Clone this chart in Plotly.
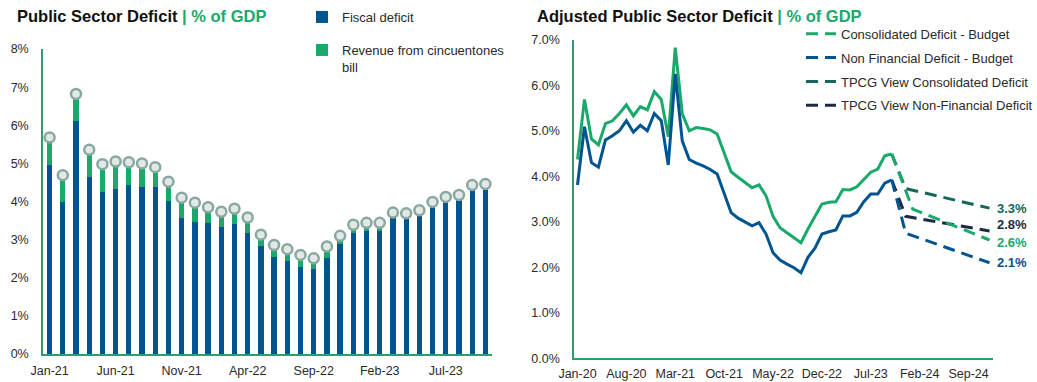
import pandas as pd
import plotly.graph_objects as go

# ---------------- Left chart data ----------------
months_left = [d.strftime("%b-%y") for d in pd.date_range("2021-01-01", "2023-10-01", freq="MS")]
fiscal_deficit = [4.97, 4.00, 6.12, 4.65, 4.26, 4.34, 4.42, 4.39, 4.39, 4.02,
                  3.58, 3.47, 3.44, 3.34, 3.40, 3.17, 2.82, 2.55, 2.45, 2.29,
                  2.22, 2.51, 2.88, 3.17, 3.22, 3.22, 3.71, 3.69, 3.77, 3.99,
                  4.12, 4.17, 4.43, 4.46]
cincuentones_revenue = [0.71, 0.69, 0.70, 0.71, 0.72, 0.71, 0.61, 0.61, 0.51, 0.50,
                        0.52, 0.50, 0.41, 0.39, 0.41, 0.41, 0.31, 0.31, 0.30, 0.31,
                        0.29, 0.31, 0.22, 0.22, 0.22, 0.22, 0.0, 0.0, 0.0, 0.0,
                        0.0, 0.0, 0.0, 0.0]
left_ticks = months_left[::5]
left_yticks = [0, 1, 2, 3, 4, 5, 6, 7, 8]
left_ytext = ["0%", "1%", "2%", "3%", "4%", "5%", "6%", "7%", "8%"]

# ---------------- Right chart data ----------------
months_right = [d.strftime("%b-%y") for d in pd.date_range("2020-01-01", "2024-12-01", freq="MS")]
months_actual = months_right[:46]
consolidated = [4.37, 5.69, 4.82, 4.69, 5.16, 5.22, 5.38, 5.57, 5.33, 5.53,
                5.46, 5.86, 5.69, 4.87, 6.83, 5.38, 5.00, 5.07, 5.05, 5.02,
                4.93, 4.50, 4.10, 3.98, 3.86, 3.75, 3.81, 3.57, 3.12, 2.87,
                2.76, 2.64, 2.54, 2.84, 3.11, 3.39, 3.43, 3.44, 3.71, 3.70,
                3.77, 3.93, 4.09, 4.16, 4.45, 4.49]
non_financial = [3.81, 5.09, 4.30, 4.20, 4.80, 4.89, 5.00, 5.22, 4.97, 5.12,
                 5.00, 5.38, 5.22, 4.25, 6.25, 4.78, 4.37, 4.29, 4.23, 4.15,
                 4.05, 3.63, 3.20, 3.08, 3.00, 2.91, 2.98, 2.73, 2.32, 2.16,
                 2.07, 1.99, 1.88, 2.22, 2.42, 2.73, 2.78, 2.82, 3.13, 3.13,
                 3.21, 3.44, 3.61, 3.61, 3.85, 3.92]
cons_budget_x = ["Oct-23", "Jan-24", "Dec-24"]
cons_budget = [4.49, 3.28, 2.6]
nf_budget_x = ["Oct-23", "Dec-23", "Dec-24"]
nf_budget = [3.92, 2.75, 2.1]
tpcg_cons_x = ["Oct-23", "Dec-23", "Dec-24"]
tpcg_cons = [4.49, 3.73, 3.3]
tpcg_nf_x = ["Oct-23", "Dec-23", "Dec-24"]
tpcg_nf = [3.92, 3.12, 2.8]
right_ticks = months_right[::7]
right_yticks = [0, 1, 2, 3, 4, 5, 6, 7]
right_ytext = ["0.0%", "1.0%", "2.0%", "3.0%", "4.0%", "5.0%", "6.0%", "7.0%"]

# ---------------- Styles ----------------
BLUE = "#00548f"
GREEN = "#19a96b"
TEAL = "#17665a"
NAVY = "#1c2b45"
AXIS = "#2aa06a"
TXT = "#2a2a2a"
FONT = "Liberation Sans, Arial, Helvetica, sans-serif"

fig = go.Figure()

fig.add_trace(go.Bar(x=months_left, y=fiscal_deficit, name="Fiscal deficit",
                     marker=dict(color=BLUE, line=dict(width=0)), width=0.4,
                     xaxis="x", yaxis="y", legend="legend", legendgroup="a"))
fig.add_trace(go.Bar(x=months_left, y=cincuentones_revenue, name="Revenue from cincuentones<br>bill",
                     marker=dict(color=GREEN, line=dict(width=0)), width=0.4,
                     xaxis="x", yaxis="y", legend="legend3", legendgroup="b"))
totals = [f + r for f, r in zip(fiscal_deficit, cincuentones_revenue)]
fig.add_trace(go.Scatter(x=months_left, y=totals, mode="markers", showlegend=False,
                         marker=dict(size=10, color="#e1e9e7", line=dict(color="#8aa7a2", width=2.5)),
                         xaxis="x", yaxis="y", hoverinfo="skip"))

# Right chart lines
fig.add_trace(go.Scatter(x=months_actual, y=consolidated, mode="lines", showlegend=False,
                         line=dict(color=GREEN, width=3), xaxis="x2", yaxis="y2"))
fig.add_trace(go.Scatter(x=months_actual, y=non_financial, mode="lines", showlegend=False,
                         line=dict(color=BLUE, width=3), xaxis="x2", yaxis="y2"))
dash = "12px,7px"
fig.add_trace(go.Scatter(x=tpcg_cons_x, y=tpcg_cons, mode="lines", name="TPCG View Consolidated Deficit",
                         line=dict(color=TEAL, width=3, dash=dash), xaxis="x2", yaxis="y2",
                         legend="legend2", legendgroup="r3", legendrank=3))
fig.add_trace(go.Scatter(x=tpcg_nf_x, y=tpcg_nf, mode="lines", name="TPCG View Non-Financial Deficit",
                         line=dict(color=NAVY, width=3, dash=dash), xaxis="x2", yaxis="y2",
                         legend="legend2", legendgroup="r4", legendrank=4))
fig.add_trace(go.Scatter(x=cons_budget_x, y=cons_budget, mode="lines", name="Consolidated Deficit - Budget",
                         line=dict(color=GREEN, width=3, dash=dash), xaxis="x2", yaxis="y2",
                         legend="legend2", legendgroup="r1", legendrank=1))
fig.add_trace(go.Scatter(x=nf_budget_x, y=nf_budget, mode="lines", name="Non Financial Deficit - Budget",
                         line=dict(color=BLUE, width=3, dash=dash), xaxis="x2", yaxis="y2",
                         legend="legend2", legendgroup="r2", legendrank=2))

# End labels
end_labels = [(tpcg_cons, TEAL, 0), (tpcg_nf, NAVY, 6), (cons_budget, GREEN, -2), (nf_budget, BLUE, 0)]
annotations = []
for vals, col, ys in end_labels:
    annotations.append(dict(x=months_right[-1], y=vals[-1], xref="x2", yref="y2",
                            text=f"<b>{vals[-1]:.1f}%</b>", showarrow=False, xanchor="left",
                            xshift=5, yshift=ys, font=dict(size=13, color=col, family=FONT)))

annotations.append(dict(x=15 / 1037, y=1 - 16 / 382, xref="paper", yref="paper", xanchor="left",
                        yanchor="middle", showarrow=False,
                        text=f"<b>Public Sector Deficit</b> <span style='color:{GREEN}'><b>| % of GDP</b></span>",
                        font=dict(size=16.5, color="#111111", family=FONT)))
annotations.append(dict(x=535 / 1037, y=1 - 16 / 382, xref="paper", yref="paper", xanchor="left",
                        yanchor="middle", showarrow=False,
                        text=f"<b>Adjusted Public Sector Deficit</b> <span style='color:{GREEN}'><b>| % of GDP</b></span>",
                        font=dict(size=16.5, color="#111111", family=FONT)))

axis_common = dict(showgrid=False, zeroline=False, showline=True, linecolor=AXIS, linewidth=1.5,
                   tickfont=dict(size=12.5, color=TXT, family=FONT), ticks="", fixedrange=True,
                   automargin=False)

fig.update_layout(
    width=1037, height=382,
    margin=dict(l=0, r=0, t=0, b=0, autoexpand=False),
    paper_bgcolor="white", plot_bgcolor="white",
    barmode="stack",
    font=dict(family=FONT, color=TXT),
    xaxis=dict(domain=[43 / 1037, 492 / 1037], anchor="y", type="category", range=[-0.5, 33.5],
               tickmode="array", tickvals=left_ticks, ticklabelstandoff=4, **axis_common),
    yaxis=dict(domain=[28 / 382, 333 / 382], anchor="x", range=[0, 8], tickmode="array",
               tickvals=left_yticks, ticktext=left_ytext, ticklabelstandoff=10, **axis_common),
    xaxis2=dict(domain=[574 / 1037, 993 / 1037], anchor="y2", type="category",
                categoryorder="array", categoryarray=months_right, range=[-0.5, 59.5],
                tickmode="array", tickvals=right_ticks, ticklabelstandoff=3, **axis_common),
    yaxis2=dict(domain=[23.7 / 382, 342.2 / 382], anchor="x2", range=[0, 7], tickmode="array",
                tickvals=right_yticks, ticktext=right_ytext, ticklabelstandoff=10, **axis_common),
    legend=dict(x=302 / 1037, y=1 - 2 / 382, xanchor="left", yanchor="top", bgcolor="rgba(0,0,0,0)",
                font=dict(size=13, color=TXT, family=FONT)),
    legend3=dict(x=302 / 1037, y=1 - 35 / 382, xanchor="left", yanchor="top", bgcolor="rgba(0,0,0,0)",
                 valign="top", font=dict(size=13, color=TXT, family=FONT)),
    legend2=dict(x=801 / 1037, y=1 - 18.7 / 382, xanchor="left", yanchor="top", bgcolor="rgba(0,0,0,0)",
                 tracegroupgap=4, traceorder="grouped", font=dict(size=13, color=TXT, family=FONT)),
    annotations=annotations,
    showlegend=True,
)

fig.write_html("out.html")
